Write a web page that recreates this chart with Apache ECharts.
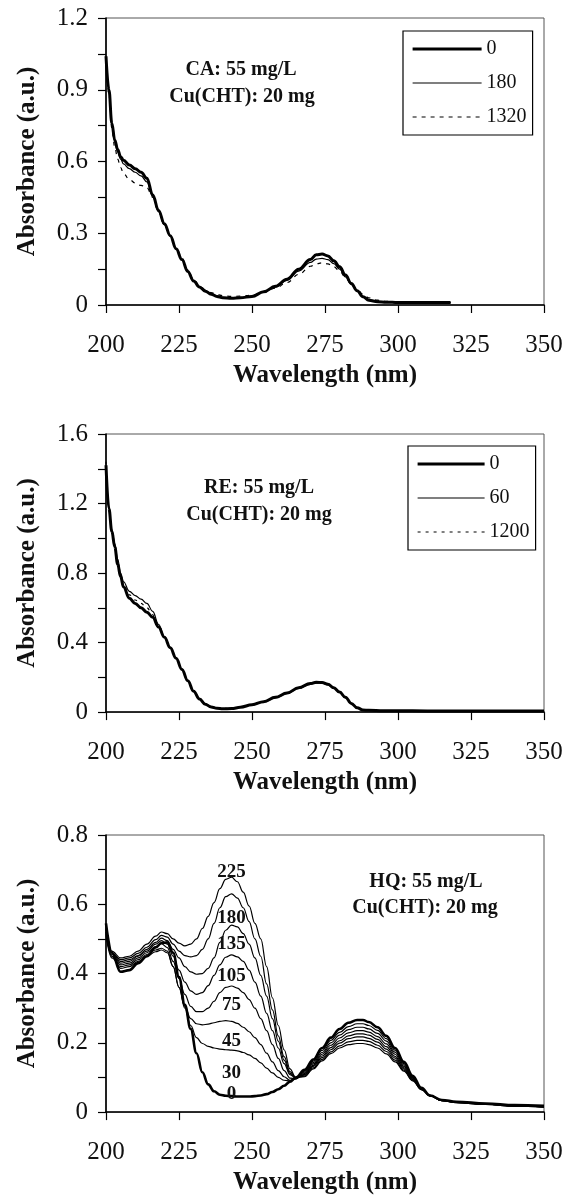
<!DOCTYPE html>
<html>
<head>
<meta charset="utf-8">
<script src="https://cdn.jsdelivr.net/npm/echarts@6/dist/echarts.min.js"></script>
<style>
  html, body { margin: 0; padding: 0; background: #fff; }
  .panel { width: 569px; height: 400px; }
</style>
</head>
<body>
<div class="panel" id="ca"></div>
<div class="panel" id="re"></div>
<div class="panel" id="hq"></div>
<script>
// ---- data ----
const xTicks = ['200', '225', '250', '275', '300', '325', '350'];

// CA panel
const caX = [200, 201, 202, 203, 204, 205, 206, 208, 210, 212, 214, 216, 218, 220, 222, 224, 226, 228, 230, 232, 234, 236, 238, 240, 243, 246, 250, 254, 258, 262, 266, 270, 272, 274, 276, 278, 280, 282, 284, 286, 288, 290, 293, 296, 300, 305, 310, 315, 318];
const ca0 = [1.04, 0.90, 0.76, 0.69, 0.65, 0.62, 0.605, 0.585, 0.57, 0.555, 0.53, 0.46, 0.395, 0.34, 0.29, 0.235, 0.19, 0.14, 0.10, 0.075, 0.058, 0.045, 0.036, 0.03, 0.028, 0.03, 0.036, 0.055, 0.078, 0.108, 0.15, 0.19, 0.21, 0.213, 0.205, 0.185, 0.16, 0.125, 0.09, 0.06, 0.035, 0.02, 0.014, 0.012, 0.01, 0.01, 0.01, 0.01, 0.01];
const ca180 = [1.03, 0.89, 0.75, 0.68, 0.64, 0.61, 0.59, 0.57, 0.555, 0.54, 0.515, 0.455, 0.39, 0.335, 0.288, 0.235, 0.19, 0.142, 0.102, 0.077, 0.06, 0.047, 0.038, 0.032, 0.03, 0.031, 0.037, 0.054, 0.075, 0.103, 0.142, 0.178, 0.192, 0.195, 0.19, 0.173, 0.15, 0.118, 0.086, 0.058, 0.036, 0.022, 0.015, 0.012, 0.01, 0.01, 0.01, 0.01, 0.01];
const ca1320 = [1.02, 0.88, 0.74, 0.66, 0.61, 0.575, 0.55, 0.525, 0.51, 0.50, 0.49, 0.45, 0.39, 0.335, 0.29, 0.24, 0.195, 0.147, 0.107, 0.082, 0.064, 0.052, 0.044, 0.039, 0.036, 0.037, 0.041, 0.053, 0.07, 0.094, 0.128, 0.162, 0.172, 0.176, 0.172, 0.16, 0.142, 0.115, 0.088, 0.065, 0.045, 0.03, 0.02, 0.015, 0.012, 0.011, 0.01, 0.01, 0.01];
const caY = ['0', '0.3', '0.6', '0.9', '1.2'];

// RE panel
const reX = [200, 201, 202, 203, 204, 205, 206, 208, 210, 212, 214, 216, 218, 220, 222, 224, 226, 228, 230, 232, 234, 236, 238, 240, 243, 246, 250, 254, 258, 262, 266, 270, 272, 274, 276, 278, 280, 282, 284, 286, 288, 290, 295, 300, 310, 320, 330, 340, 350];
const re0 = [1.42, 1.17, 1.04, 0.95, 0.85, 0.78, 0.72, 0.655, 0.625, 0.60, 0.575, 0.545, 0.49, 0.43, 0.37, 0.31, 0.245, 0.18, 0.12, 0.075, 0.045, 0.03, 0.022, 0.019, 0.02, 0.028, 0.042, 0.06, 0.085, 0.11, 0.14, 0.165, 0.172, 0.17, 0.16, 0.14, 0.115, 0.085, 0.05, 0.025, 0.012, 0.01, 0.008, 0.008, 0.007, 0.007, 0.007, 0.006, 0.006];
const re60 = [1.40, 1.16, 1.05, 0.97, 0.88, 0.80, 0.75, 0.695, 0.67, 0.65, 0.625, 0.58, 0.505, 0.435, 0.372, 0.31, 0.247, 0.182, 0.122, 0.077, 0.047, 0.031, 0.023, 0.02, 0.021, 0.028, 0.041, 0.058, 0.082, 0.107, 0.136, 0.16, 0.167, 0.166, 0.157, 0.138, 0.113, 0.083, 0.05, 0.026, 0.013, 0.01, 0.008, 0.008, 0.007, 0.007, 0.006, 0.006, 0.006];
const re1200 = [1.44, 1.18, 1.05, 0.96, 0.86, 0.79, 0.735, 0.675, 0.645, 0.625, 0.60, 0.56, 0.50, 0.435, 0.372, 0.312, 0.247, 0.183, 0.123, 0.078, 0.048, 0.032, 0.024, 0.021, 0.022, 0.029, 0.043, 0.061, 0.086, 0.111, 0.14, 0.164, 0.17, 0.168, 0.158, 0.139, 0.114, 0.084, 0.05, 0.026, 0.013, 0.01, 0.008, 0.008, 0.007, 0.007, 0.007, 0.006, 0.006];
const reY = ['0', '0.4', '0.8', '1.2', '1.6'];

// HQ panel
const hqX = [200, 202, 205, 208, 211, 214, 217, 219, 221, 223, 225, 227, 229, 231, 233, 235, 237, 239, 241, 243, 245, 247, 249, 251, 253, 255, 257, 259, 261, 263, 265, 268, 271, 274, 277, 280, 283, 286, 288, 290, 293, 296, 299, 302, 305, 308, 311, 315, 320, 330, 340, 350];
const hqTimes = ['225', '180', '135', '105', '75', '45', '30', '0'];
const hq225 = [0.53, 0.465, 0.445, 0.45, 0.465, 0.485, 0.508, 0.52, 0.515, 0.50, 0.488, 0.48, 0.485, 0.50, 0.53, 0.565, 0.605, 0.645, 0.672, 0.678, 0.665, 0.635, 0.595, 0.545, 0.50, 0.42, 0.33, 0.25, 0.18, 0.125, 0.10, 0.102, 0.125, 0.148, 0.169, 0.185, 0.195, 0.198, 0.198, 0.195, 0.185, 0.168, 0.145, 0.118, 0.090, 0.065, 0.047, 0.033, 0.027, 0.022, 0.017, 0.014];
const hq180 = [0.53, 0.46, 0.44, 0.445, 0.458, 0.476, 0.498, 0.51, 0.505, 0.485, 0.465, 0.452, 0.448, 0.452, 0.47, 0.50, 0.545, 0.59, 0.622, 0.63, 0.618, 0.59, 0.55, 0.50, 0.45, 0.37, 0.295, 0.22, 0.16, 0.117, 0.10, 0.104, 0.128, 0.152, 0.174, 0.191, 0.203, 0.207, 0.207, 0.204, 0.193, 0.175, 0.150, 0.121, 0.092, 0.065, 0.047, 0.033, 0.027, 0.022, 0.017, 0.014];
const hq135 = [0.525, 0.46, 0.435, 0.44, 0.452, 0.47, 0.49, 0.502, 0.495, 0.47, 0.445, 0.42, 0.405, 0.398, 0.40, 0.415, 0.445, 0.49, 0.525, 0.54, 0.535, 0.515, 0.485, 0.445, 0.395, 0.335, 0.27, 0.205, 0.15, 0.112, 0.099, 0.107, 0.132, 0.157, 0.180, 0.199, 0.212, 0.217, 0.217, 0.213, 0.202, 0.182, 0.156, 0.125, 0.094, 0.066, 0.047, 0.033, 0.028, 0.023, 0.018, 0.015];
const hq105 = [0.52, 0.455, 0.43, 0.435, 0.45, 0.465, 0.485, 0.495, 0.485, 0.45, 0.41, 0.375, 0.35, 0.34, 0.345, 0.365, 0.395, 0.425, 0.447, 0.454, 0.448, 0.435, 0.41, 0.375, 0.335, 0.285, 0.235, 0.185, 0.14, 0.108, 0.098, 0.109, 0.135, 0.162, 0.186, 0.206, 0.220, 0.226, 0.226, 0.222, 0.210, 0.189, 0.161, 0.128, 0.096, 0.067, 0.047, 0.034, 0.028, 0.023, 0.018, 0.015];
const hq75 = [0.515, 0.45, 0.425, 0.43, 0.445, 0.46, 0.478, 0.486, 0.475, 0.435, 0.385, 0.34, 0.305, 0.29, 0.29, 0.30, 0.32, 0.345, 0.36, 0.364, 0.358, 0.345, 0.325, 0.30, 0.27, 0.235, 0.195, 0.155, 0.12, 0.098, 0.097, 0.112, 0.139, 0.167, 0.193, 0.214, 0.229, 0.235, 0.235, 0.231, 0.218, 0.197, 0.167, 0.132, 0.098, 0.067, 0.047, 0.034, 0.028, 0.023, 0.018, 0.016];
const hq45 = [0.51, 0.445, 0.42, 0.425, 0.44, 0.455, 0.468, 0.473, 0.465, 0.42, 0.36, 0.305, 0.27, 0.255, 0.252, 0.254, 0.258, 0.262, 0.264, 0.262, 0.256, 0.245, 0.232, 0.215, 0.195, 0.17, 0.145, 0.12, 0.102, 0.092, 0.096, 0.115, 0.143, 0.172, 0.200, 0.222, 0.238, 0.245, 0.245, 0.240, 0.227, 0.205, 0.173, 0.136, 0.100, 0.068, 0.048, 0.034, 0.029, 0.024, 0.019, 0.016];
const hq30 = [0.52, 0.45, 0.415, 0.42, 0.435, 0.45, 0.463, 0.468, 0.46, 0.42, 0.36, 0.30, 0.25, 0.215, 0.198, 0.19, 0.185, 0.182, 0.18, 0.179, 0.177, 0.172, 0.165, 0.155, 0.142, 0.127, 0.113, 0.10, 0.092, 0.09, 0.096, 0.118, 0.147, 0.178, 0.207, 0.230, 0.247, 0.255, 0.255, 0.250, 0.236, 0.212, 0.179, 0.140, 0.102, 0.069, 0.048, 0.035, 0.029, 0.024, 0.019, 0.017];
const hq0 = [0.545, 0.46, 0.405, 0.41, 0.43, 0.45, 0.475, 0.488, 0.49, 0.46, 0.39, 0.31, 0.24, 0.17, 0.115, 0.08, 0.06, 0.05, 0.047, 0.046, 0.045, 0.045, 0.045, 0.046, 0.048, 0.052, 0.058, 0.066, 0.076, 0.088, 0.100, 0.122, 0.152, 0.185, 0.215, 0.240, 0.258, 0.266, 0.266, 0.260, 0.245, 0.220, 0.185, 0.145, 0.105, 0.070, 0.048, 0.035, 0.030, 0.025, 0.020, 0.018];
const hqY = ['0', '0.2', '0.4', '0.6', '0.8'];

const FONT = 'Liberation Serif';
const INK = '#111';

function pairs(xs, ys) {
  return xs.map((x, i) => [x, ys[i]]);
}

// axes, frame and title text shared by the three panels
function baseOption(top, height, yMax, yStep, yLabels) {
  return {
    animation: false,
    grid: { left: 106, top: top, width: 438, height: height, show: true, borderColor: '#555', borderWidth: 1 },
    xAxis: {
      type: 'value', min: 200, max: 350, interval: 25,
      axisLine: { lineStyle: { color: '#000', width: 1.6 } },
      axisTick: { length: 8, lineStyle: { color: '#000', width: 1.2 } },
      axisLabel: {
        margin: 28, fontSize: 25, fontFamily: FONT, color: INK,
        formatter: v => xTicks.includes(String(v)) ? String(v) : ''
      },
      splitLine: { show: false },
      name: 'Wavelength (nm)', nameLocation: 'middle', nameGap: 54,
      nameTextStyle: { fontFamily: FONT, fontWeight: 'bold', fontSize: 25, color: INK }
    },
    yAxis: {
      type: 'value', min: 0, max: yMax, interval: yStep,
      axisLine: { show: true, lineStyle: { color: '#000', width: 1.6 } },
      axisTick: { show: true, length: 8, lineStyle: { color: '#000', width: 1.2 } },
      axisLabel: {
        margin: 18, fontSize: 25, fontFamily: FONT, color: INK,
        formatter: v => {
          const s = String(+v.toFixed(2));
          return yLabels.includes(s) ? s : '';
        }
      },
      splitLine: { show: false },
      name: 'Absorbance (a.u.)', nameLocation: 'middle', nameGap: 66,
      nameTextStyle: { fontFamily: FONT, fontWeight: 'bold', fontSize: 25, color: INK }
    }
  };
}

function note(x, y, text) {
  return {
    type: 'text', x: x, y: y,
    style: { text: text, font: 'bold 20px "' + FONT + '"', fill: INK, textAlign: 'center', textVerticalAlign: 'middle' }
  };
}

// first name in the list is the heavy 0-min trace
function boxLegend(left, top, names, lineW) {
  return {
    orient: 'vertical', left: left, top: top,
    padding: [8, 6, 8, 8], borderColor: '#000', borderWidth: 1.2,
    itemWidth: lineW, itemHeight: 20, itemGap: 14,
    selectedMode: false,
    itemStyle: { opacity: 0 },   // line only, no marker dot
    textStyle: { fontFamily: FONT, fontSize: 20, color: INK },
    data: names.map((n, i) => i === 0 ? { name: n, lineStyle: { width: 3.2 } } : { name: n, lineStyle: { width: 1.2 } })
  };
}

function line(name, data, width, type) {
  return {
    name: name, type: 'line', data: data, smooth: 0.4, smoothMonotone: 'x',
    symbol: 'none', lineStyle: { color: '#000', width: width, type: type || 'solid' },
    itemStyle: { color: '#000' }
  };
}

// ---- CA ----
const caChart = echarts.init(document.getElementById('ca'));
const caOpt = baseOption(18, 287, 1.2, 0.15, caY);
caOpt.legend = boxLegend(403, 31, ['0', '180', '1320'], 69);
caOpt.series = [
  line('1320', pairs(caX, ca1320), 1.2, [4, 5]),
  line('180', pairs(caX, ca180), 1.2),
  line('0', pairs(caX, ca0), 3)
];
caOpt.graphic = [note(241, 70, 'CA: 55 mg/L'), note(242, 97, 'Cu(CHT): 20 mg')];
caChart.setOption(caOpt);

// ---- RE ----
const reChart = echarts.init(document.getElementById('re'));
const reOpt = baseOption(34, 287, 1.6, 0.2, reY);
reOpt.legend = boxLegend(408, 46, ['0', '60', '1200'], 67);
reOpt.series = [
  line('1200', pairs(reX, re1200), 1.2, [3, 5]),
  line('60', pairs(reX, re60), 1.2),
  line('0', pairs(reX, re0), 3)
];
reOpt.graphic = [note(259, 88, 'RE: 55 mg/L'), note(259, 115, 'Cu(CHT): 20 mg')];
reChart.setOption(reOpt);

// ---- HQ ----
const hqChart = echarts.init(document.getElementById('hq'));
const hqOpt = baseOption(35, 288, 0.8, 0.1, hqY);
const hqData = [hq225, hq180, hq135, hq105, hq75, hq45, hq30, hq0];
const tagAt = hqX.indexOf(243);
// vertical nudge of each time label from its curve at 243 nm
const tagShift = { '225': -5, '180': 24, '135': 19, '105': 21, '75': 19, '45': 20, '30': 23, '0': -2 };
hqOpt.series = hqData.map((ys, i) => {
  const name = hqTimes[i];
  const s = line(name, pairs(hqX, ys), name === '0' ? 2.6 : 1.2);
  s.markPoint = {
    symbol: 'circle', symbolSize: 0, silent: true,
    data: [{ coord: [243, ys[tagAt]] }],
    label: {
      show: true, position: 'inside', offset: [0, tagShift[name]], formatter: name,
      fontFamily: FONT, fontWeight: 'bold', fontSize: 19, color: INK
    }
  };
  return s;
});
hqOpt.graphic = [note(426, 82, 'HQ: 55 mg/L'), note(425, 108, 'Cu(CHT): 20 mg')];
hqChart.setOption(hqOpt);
</script>
</body>
</html>
